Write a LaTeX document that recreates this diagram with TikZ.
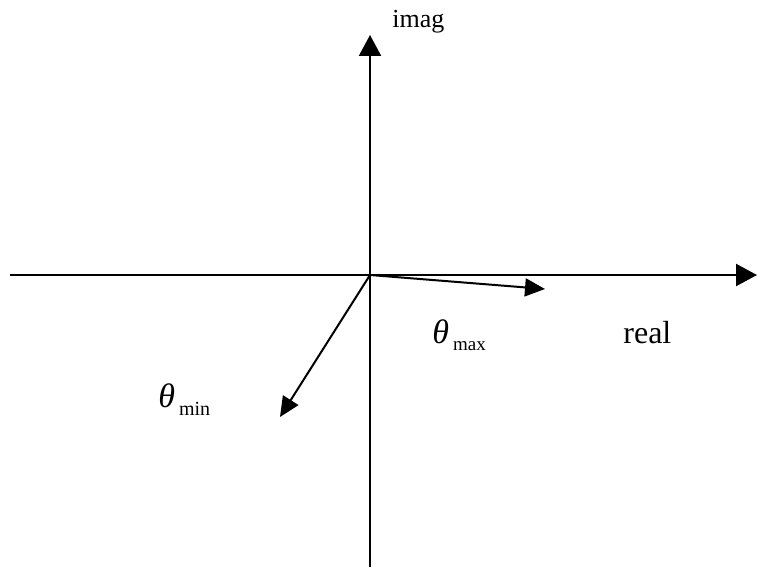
\documentclass[tikz,border=0pt]{standalone}
\usepackage{fontspec}
\setmainfont{Liberation Serif}
\usepackage{tikz}
\usetikzlibrary{arrows.meta}

\begin{document}
\begin{tikzpicture}[
  x=0.5pt,y=-0.5pt,
  axis/.style={-{Triangle[length=10.5pt,width=11pt]},line width=1.1pt,color=black},
  vector/.style={-{Triangle[length=10pt,width=9pt]},line width=1pt,color=black},
  axislabel/.style={anchor=base west,inner sep=0pt,font=\fontsize{13}{13}\selectfont},
  anglelabel/.style={anchor=base west,inner sep=0pt,font=\fontsize{17}{17}\selectfont}
]
\useasboundingbox (0,0) rectangle (758,567);
% axes
\coordinate (o) at (370,275);
\coordinate (west) at (10,275);
\coordinate (east) at (757,275);
\coordinate (south) at (370,567);
\coordinate (north) at (370,35);
\draw[axis] (west) -- (east);
\draw[axis] (south) -- (north);
\node[axislabel] (imag) at (392,28) {imag};
\node[axislabel,font=\fontsize{16}{16}\selectfont] (real) at (623,343) {real};
% angle vectors
\coordinate (tmax) at (545,289);
\coordinate (tmin) at (280,417);
\draw[vector] (o) -- (tmax);
\draw[vector] (o) -- (tmin);
\node[anglelabel] (lmax) at (432,343) {\textit{θ}\hspace{2pt}\raisebox{-3.5pt}{\fontsize{9.5}{9.5}\selectfont max}};
\node[anglelabel] (lmin) at (158,407) {\textit{θ}\hspace{2pt}\raisebox{-4pt}{\fontsize{10}{10}\selectfont min}};
\end{tikzpicture}
\end{document}
